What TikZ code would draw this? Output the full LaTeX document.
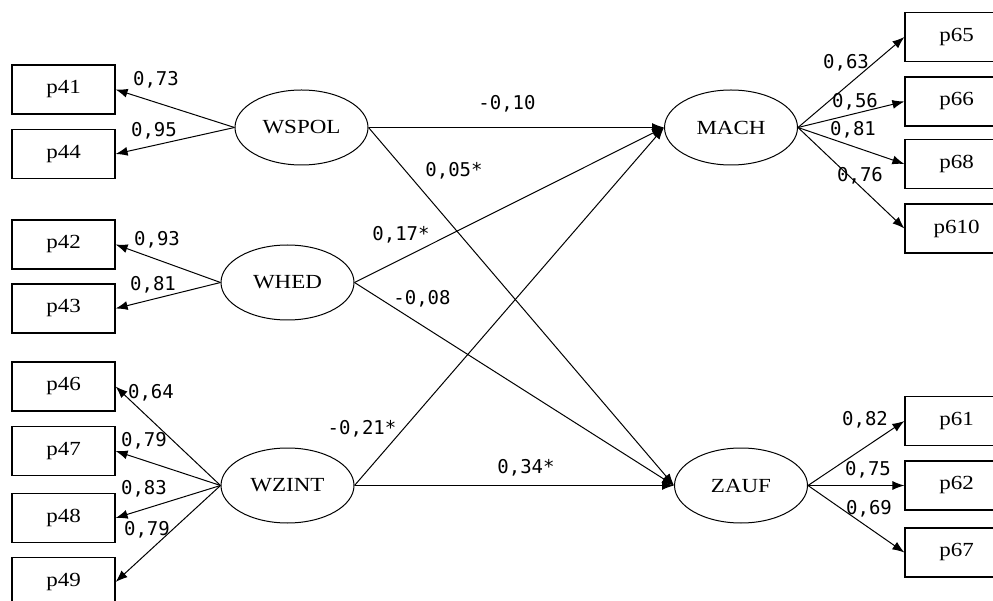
\documentclass[tikz,border=0pt]{standalone}
\usepackage{fontspec}
\setmainfont[FakeStretch=1.15]{Liberation Serif}
\newfontfamily\coeffont{DejaVu Sans Mono}
\usetikzlibrary{shapes.geometric,arrows.meta}
\begin{document}
\begin{tikzpicture}[x=1pt,y=-1pt,
  indicator/.style={draw, line width=1.2pt, rectangle, minimum width=103pt,
    minimum height=49pt, inner sep=0pt, font=\fontsize{20}{24}\selectfont},
  latent/.style={draw, line width=1pt, ellipse, minimum width=133pt,
    minimum height=75pt, inner sep=0pt, font=\fontsize{20}{24}\selectfont},
  link/.style={line width=1pt, -{Latex[length=12pt,width=9pt]}},
  coef/.style={inner sep=0pt, font=\coeffont\fontsize{19}{22}\selectfont}]
\useasboundingbox (0,0) rectangle (993,601);

% latent variables
\node[latent] (wspol) at (301.5,127.5) {WSPOL};
\node[latent] (whed)  at (287.5,282.5) {WHED};
\node[latent] (wzint) at (287.5,485.5) {WZINT};
\node[latent] (mach)  at (731,127.5)   {MACH};
\node[latent] (zauf)  at (741,485.5)   {ZAUF};

% indicators on the left
\node[indicator] (p41) at (63.5,89.5)  {p41};
\node[indicator] (p44) at (63.5,154)   {p44};
\node[indicator] (p42) at (63.5,244.5) {p42};
\node[indicator] (p43) at (63.5,308.5) {p43};
\node[indicator] (p46) at (63.5,386.5) {p46};
\node[indicator] (p47) at (63.5,451)   {p47};
\node[indicator] (p48) at (63.5,518)   {p48};
\node[indicator] (p49) at (63.5,582)   {p49};

% indicators on the right
\node[indicator] (p65)  at (956.5,37)    {p65};
\node[indicator] (p66)  at (956.5,101.5) {p66};
\node[indicator] (p68)  at (956.5,164)   {p68};
\node[indicator] (p610) at (956.5,228.5) {p610};
\node[indicator] (p61)  at (956.5,421)   {p61};
\node[indicator] (p62)  at (956.5,485.5) {p62};
\node[indicator] (p67)  at (956.5,552.5) {p67};

% measurement paths, left
\draw[link] (wspol.west) -- (p41.east);
\draw[link] (wspol.west) -- (p44.east);
\draw[link] (whed.west) -- (p42.east);
\draw[link] (whed.west) -- (p43.east);
\draw[link] (wzint.west) -- (p46.east);
\draw[link] (wzint.west) -- (p47.east);
\draw[link] (wzint.west) -- (p48.east);
\draw[link] (wzint.west) -- (p49.east);

% measurement paths, right
\draw[link] (mach.east) -- (p65.west);
\draw[link] (mach.east) -- (p66.west);
\draw[link] (mach.east) -- (p68.west);
\draw[link] (mach.east) -- (p610.west);
\draw[link] (zauf.east) -- (p61.west);
\draw[link] (zauf.east) -- (p62.west);
\draw[link] (zauf.east) -- (p67.west);

% structural paths
\draw[link] (wspol.east) -- (mach.west);
\draw[link] (wspol.east) -- (zauf.west);
\draw[link] (whed.east) -- (mach.west);
\draw[link] (whed.east) -- (zauf.west);
\draw[link] (wzint.east) -- (mach.west);
\draw[link] (wzint.east) -- (zauf.west);

% loadings, left
\node[coef] (c41) at (156,80)  {0,73};
\node[coef] (c44) at (154,131) {0,95};
\node[coef] (c42) at (157,240) {0,93};
\node[coef] (c43) at (153,285) {0,81};
\node[coef] (c46) at (151,393) {0,64};
\node[coef] (c47) at (144,441) {0,79};
\node[coef] (c48) at (144,489) {0,83};
\node[coef] (c49) at (147,530) {0,79};

% loadings, right
\node[coef] (c65)  at (846,63)  {0,63};
\node[coef] (c66)  at (855,102) {0,56};
\node[coef] (c68)  at (853,130) {0,81};
\node[coef] (c610) at (860,176) {0,76};
\node[coef] (c61)  at (865,420) {0,82};
\node[coef] (c62)  at (868,470) {0,75};
\node[coef] (c67)  at (869,509) {0,69};

% structural coefficients
\node[coef] (s1) at (507,104) {-0,10};
\node[coef] (s2) at (454,171) {0,05*};
\node[coef] (s3) at (401,235) {0,17*};
\node[coef] (s4) at (422,299) {-0,08};
\node[coef] (s5) at (362,429) {-0,21*};
\node[coef] (s6) at (526,468) {0,34*};
\end{tikzpicture}
\end{document}
